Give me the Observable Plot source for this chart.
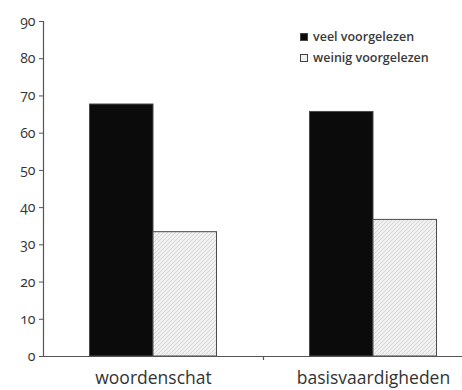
<!DOCTYPE html>
<html><head><meta charset="utf-8">
<script src="https://cdn.jsdelivr.net/npm/d3@7"></script>
<script src="https://cdn.jsdelivr.net/npm/@observablehq/plot@0.6"></script>
<style>
body{margin:0;background:#fff;}
#chart{position:relative;width:462px;height:390px;font-family:"Open Sans",sans-serif;}
#chart svg text{font-variant-numeric:oldstyle-nums;font-feature-settings:"onum" 1;}
.legend{position:absolute;left:300px;top:30px;font-size:12.5px;font-weight:600;color:#3a3a3a;line-height:14px;font-family:"Open Sans",sans-serif;}
.legend div{display:flex;align-items:center;height:14px;margin-bottom:7px;white-space:nowrap;}
.legend .sw{display:inline-block;width:6px;height:6px;margin-right:5px;border:1px solid #444;}
</style></head><body><div id="chart"></div>
<script>
const categories = ["woordenschat", "basisvaardigheden"];
const series = ["veel voorgelezen", "weinig voorgelezen"];
const veel = [67.7, 65.7];
const weinig = [33.4, 36.7];
const yTicks = [0, 10, 20, 30, 40, 50, 60, 70, 80, 90];
const seriesFill = ["#0b0b0b", "url(#hatch)"];

const data = categories.flatMap((c, i) => [
  {cat: c, s: series[0], v: veel[i]},
  {cat: c, s: series[1], v: weinig[i]}
]);

const fxRange = [43, 483];
const padOuter = 0.732;
const step = (fxRange[1] - fxRange[0]) / (series.length + 2 * padOuter);
// the rule's dx is applied twice in this Plot build, so halve it
const edgeOffset = -(step / 2 + padOuter * step) / 2;

const plot = Plot.plot({
  width: 462, height: 390,
  marginLeft: 43, marginRight: 0, marginTop: 21, marginBottom: 34,
  style: {fontFamily: "'Open Sans', sans-serif", color: "#333", background: "#fff"},
  fx: {domain: categories, range: fxRange, padding: 0, round: false, axis: null},
  x: {domain: series, paddingInner: 0, paddingOuter: padOuter, round: false, axis: null},
  y: {domain: [0, 90], axis: null},
  color: {type: "ordinal", domain: series, range: seriesFill},
  marks: [
    Plot.barY(data, {fx: "cat", x: "s", y: "v", fill: "s", stroke: "#4a4a4a", strokeWidth: 1}),
    Plot.ruleY([0], {stroke: "#555", strokeWidth: 1.2}),
    Plot.ruleX([{cat: categories[0], s: series[0]}], {fx: "cat", x: "s", y1: 0, y2: 90, dx: edgeOffset, stroke: "#555", strokeWidth: 1.2}),
    Plot.ruleX([{cat: categories[1], s: series[0]}], {fx: "cat", x: "s", y1: 0, y2: 0, insetBottom: -4, dx: edgeOffset, stroke: "#555", strokeWidth: 1.2}),
    Plot.axisY({ticks: yTicks, tickSize: 4, tickPadding: 4, fontSize: 14, label: null, stroke: "#555", fontFamily: "'Open Sans', sans-serif"}),
    Plot.axisFx({anchor: "bottom", tickSize: 0, tickPadding: 15, fontSize: 17.5, fontWeight: 500, label: null})
  ]
});

const svg = d3.select(plot);
const defs = svg.insert("defs", ":first-child");
const pat = defs.append("pattern").attr("id", "hatch").attr("patternUnits", "userSpaceOnUse")
  .attr("width", 4).attr("height", 4);
pat.append("rect").attr("width", 4).attr("height", 4).attr("fill", "#f0f0f0");
pat.append("path").attr("d", "M-1,1 l2,-2 M0,4 l4,-4 M3,5 l2,-2").attr("stroke", "#cfcfcf").attr("stroke-width", 0.8);

const chart = document.getElementById("chart");
chart.appendChild(plot);

const legend = document.createElement("div");
legend.className = "legend";
series.forEach((s, i) => {
  const row = document.createElement("div");
  const sw = document.createElement("span");
  sw.className = "sw";
  sw.style.background = i === 0 ? "#0b0b0b" : "#f0f0f0";
  row.appendChild(sw);
  row.appendChild(document.createTextNode(s));
  legend.appendChild(row);
});
chart.appendChild(legend);
</script>
</body></html>
